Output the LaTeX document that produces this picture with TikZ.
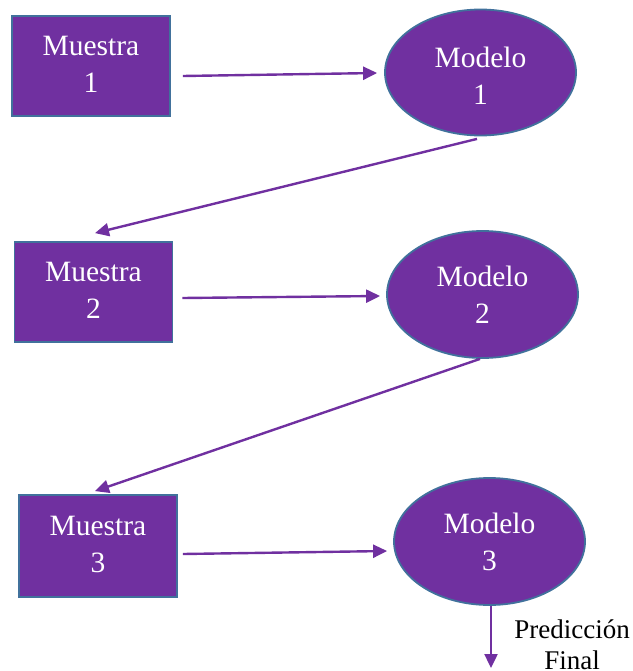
\documentclass[tikz,border=0pt]{standalone}
\usepackage{fontspec}
\setmainfont{Liberation Serif}
\usetikzlibrary{shapes.geometric,arrows.meta,calc}
\definecolor{boxfill}{HTML}{7030A0}
\definecolor{boxedge}{HTML}{41719C}
\definecolor{flow}{HTML}{7030A0}
% struts that nudge a two-line label up or down inside its shape
\newcommand{\lowstrut}{\rule[-4pt]{0pt}{4pt}}
\newcommand{\highstrut}{\rule{0pt}{27pt}}
\begin{document}
\begin{tikzpicture}[x=1pt,y=-1pt,
  sample/.style={rectangle,draw=boxedge,line width=1.8pt,fill=boxfill,text=white,
    minimum width=158pt,minimum height=100pt,align=center,inner sep=0pt,
    font=\fontsize{29.5}{37}\selectfont},
  model/.style={ellipse,draw=boxedge,line width=1.8pt,fill=boxfill,text=white,
    minimum width=191pt,minimum height=126pt,align=center,inner sep=0pt,
    font=\fontsize{29.5}{37}\selectfont},
  flowarrow/.style={draw=flow,line width=2.4pt,-{Triangle[length=14pt,width=13pt]}}]
\useasboundingbox (0,0) rectangle (632,671);

% samples and models
\node[sample] (m1) at (91,66) {Muestra\\1\lowstrut};
\node[sample] (m2) at (93.5,292) {Muestra\\2\lowstrut};
\node[sample,minimum height=102pt] (m3) at (98,546) {Muestra\\3\lowstrut};
\node[model] (e1) at (480.5,72.5) {\highstrut Modelo\\1};
\node[model,minimum height=127pt] (e2) at (482.5,294.5) {Modelo\\2};
\node[model,minimum height=127pt] (e3) at (489.5,541.5) {Modelo\\3};

% sample -> model
\draw[flowarrow] ($(m1.east)+(12,10)$) -- ($(e1.west)+(-7,0.5)$);
\draw[flowarrow] ($(m2.east)+(9,6)$) -- ($(e2.west)+(-6,1.5)$);
\draw[flowarrow] ($(m3.east)+(5,8)$) -- ($(e3.west)+(-6,9.5)$);

% model -> next sample
\draw[flowarrow] ($(e1.south)+(-3.5,2.5)$) -- ($(m2.north)+(1.5,-8)$);
\draw[flowarrow] ($(e2.south)+(-2.5,0)$) -- ($(m3.north)+(-3,-3)$);

% final output
\coordinate (out) at (491,668);
\draw[flowarrow] ($(e3.south)+(1.5,0)$) -- (out);
\node[align=center,font=\fontsize{27}{31}\selectfont,inner sep=0pt] (pred) at (572,645) {Predicción\\Final};
\end{tikzpicture}
\end{document}
